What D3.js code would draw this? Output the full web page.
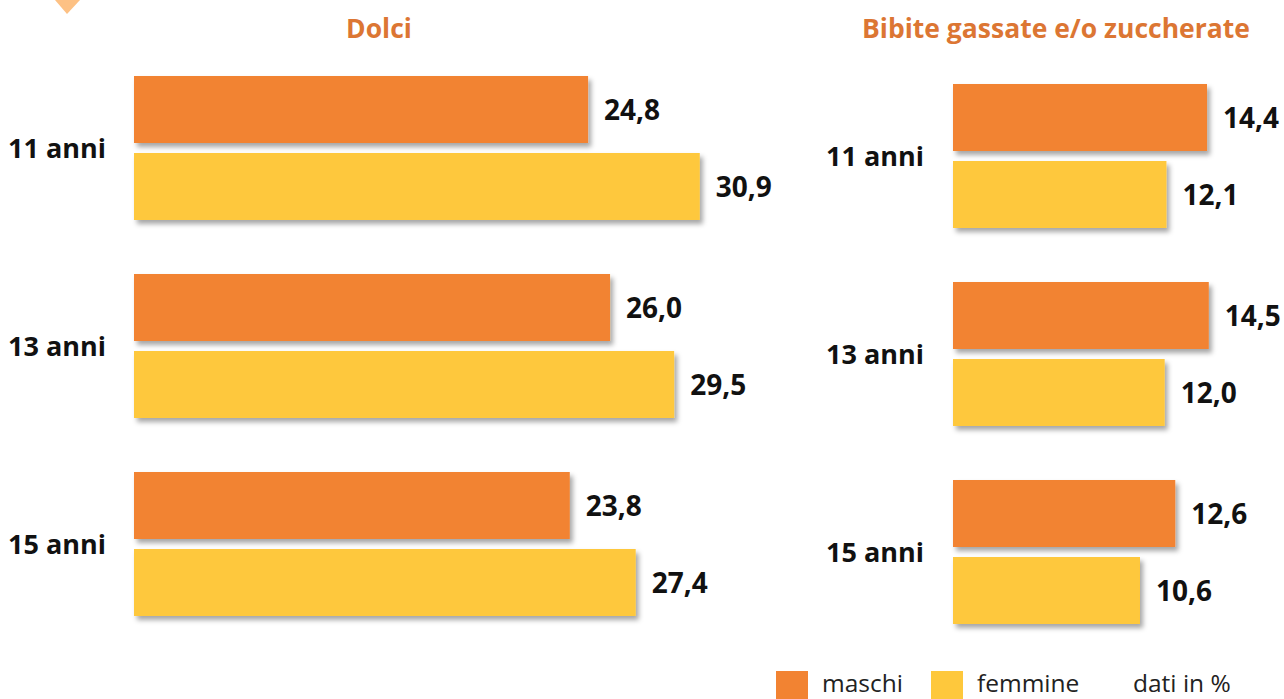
<!DOCTYPE html>
<html><head><meta charset="utf-8">
<script src="https://cdn.jsdelivr.net/npm/d3@7"></script>
<style>body{margin:0;background:#fff;overflow:hidden}svg{display:block}</style>
</head><body>
<script>
const ageGroups = ["11 anni", "13 anni", "15 anni"];
const seriesNames = ["maschi", "femmine"];
const dolciMaschi = [24.8, 26.0, 23.8];
const dolciFemmine = [30.9, 29.5, 27.4];
const bibiteMaschi = [14.4, 14.5, 12.6];
const bibiteFemmine = [12.1, 12.0, 10.6];
const panelTitles = ["Dolci", "Bibite gassate e/o zuccherate"];
const noteText = "dati in %";

const W = 1284, H = 699;
const colors = {maschi: "#f28332", femmine: "#fec83c"};
const fontFam = "'Open Sans', Lato, sans-serif";

const svg = d3.select("body").append("svg").attr("width", W).attr("height", H);
const defs = svg.append("defs");
const f = defs.append("filter").attr("id", "sh").attr("x", "-5%").attr("y", "-20%").attr("width", "115%").attr("height", "150%");
f.append("feDropShadow").attr("dx", 3).attr("dy", 4).attr("stdDeviation", 2.5).attr("flood-color", "#000").attr("flood-opacity", 0.35);

// decorative triangle top-left
svg.append("polygon").attr("points", "55,0 80,0 67,14").attr("fill", "#fdc184");

const fmt = v => d3.format(".1f")(v).replace(".", ",");

function panel(cfg) {
  const x = d3.scaleLinear().domain([0, cfg.maxV]).range([cfg.x0, cfg.x1]);
  const y0 = d3.scaleBand().domain(ageGroups).range([cfg.top, cfg.bottom]).paddingInner(54 / 198).paddingOuter(0);
  const y1 = d3.scaleBand().domain(seriesNames).range([0, y0.bandwidth()]).paddingInner(10 / 77).paddingOuter(0);
  const g = svg.append("g");
  g.append("text").attr("x", cfg.titleX).attr("y", 38).attr("text-anchor", "middle")
    .attr("font-family", fontFam).attr("font-weight", 700).attr("font-size", 26.5).attr("fill", "#dc7633")
    .text(cfg.title);
  const data = [];
  ageGroups.forEach((a, i) => {
    data.push({age: a, s: "maschi", v: cfg.m[i]});
    data.push({age: a, s: "femmine", v: cfg.f[i]});
  });
  g.selectAll("rect.bar").data(data).join("rect").attr("class", "bar")
    .attr("x", x(0)).attr("y", d => y0(d.age) + y1(d.s))
    .attr("width", d => x(d.v) - x(0)).attr("height", y1.bandwidth())
    .attr("fill", d => colors[d.s]).attr("filter", "url(#sh)");
  g.selectAll("text.val").data(data).join("text").attr("class", "val")
    .attr("x", d => x(d.v) + 16).attr("y", d => y0(d.age) + y1(d.s) + y1.bandwidth() / 2)
    .attr("dy", "0.36em").attr("font-family", fontFam).attr("font-weight", 700).attr("font-size", 28).attr("fill", "#111")
    .text(d => fmt(d.v));
  g.selectAll("text.cat").data(ageGroups).join("text").attr("class", "cat")
    .attr("x", cfg.labelX).attr("y", d => y0(d) + y0.bandwidth() / 2)
    .attr("dy", "0.36em").attr("font-family", fontFam).attr("font-weight", 700).attr("font-size", 27).attr("fill", "#111")
    .text(d => d);
}

panel({title: panelTitles[0], titleX: 379, m: dolciMaschi, f: dolciFemmine,
  x0: 134, x1: 134 + 18.31 * 30, maxV: 30, top: 76, bottom: 616, labelX: 8});
panel({title: panelTitles[1], titleX: 1056, m: bibiteMaschi, f: bibiteFemmine,
  x0: 953, x1: 953 + 17.64 * 15, maxV: 15, top: 84, bottom: 624, labelX: 826});

// legend
const leg = svg.append("g");
const legItems = [{s: "maschi", x: 776}, {s: "femmine", x: 931}];
leg.selectAll("rect").data(legItems).join("rect")
  .attr("x", d => d.x).attr("y", 671).attr("width", 32).attr("height", 32).attr("fill", d => colors[d.s]);
leg.selectAll("text.l").data(legItems).join("text").attr("class", "l")
  .attr("x", d => d.x + 46).attr("y", 692).attr("font-family", fontFam).attr("font-size", 24.5).attr("fill", "#222")
  .text(d => d.s);
leg.append("text").attr("x", 1133).attr("y", 692).attr("font-family", fontFam).attr("font-size", 24.5).attr("fill", "#222").text(noteText);
</script>
</body></html>
